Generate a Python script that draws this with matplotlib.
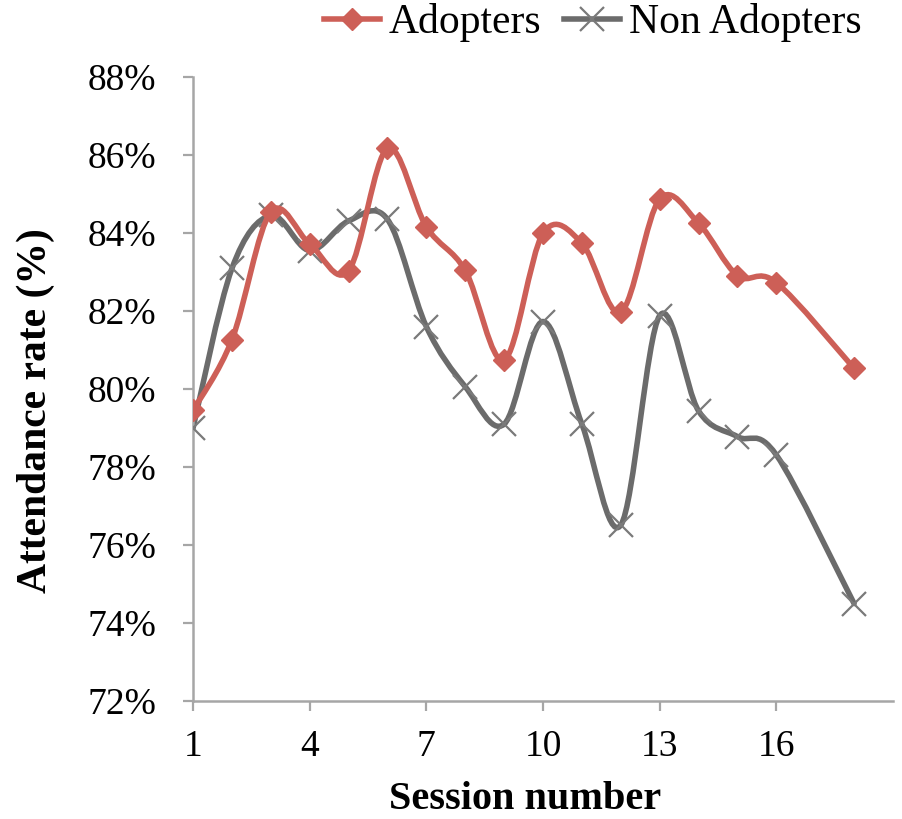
import numpy as np
import matplotlib
matplotlib.use('Agg')
import matplotlib.pyplot as plt
from matplotlib.path import Path
from matplotlib.patches import PathPatch
from matplotlib.lines import Line2D
from matplotlib.ticker import FuncFormatter

plt.rcParams['font.family'] = ['Liberation Serif', 'DejaVu Serif']

sessions = [1, 2, 3, 4, 5, 6, 7, 8, 9, 10, 11, 12, 13, 14, 15, 16, 18]
adopters = [79.45, 81.26, 84.54, 83.72, 83.03, 86.17, 84.16, 83.04, 80.74, 83.99,
            83.74, 81.97, 84.87, 84.25, 82.91, 82.73, 80.53]
non_adopters = [79.0, 83.09, 84.45, 83.55, 84.31, 84.35, 81.6, 80.06, 79.1, 81.73,
                79.1, 76.51, 81.88, 79.44, 78.78, 78.31, 74.5]

red = '#CD5F57'
gray = '#6B6B6B'
axis_gray = '#A6A6A6'


def smooth_path(x, y):
    # excel-like smoothed line: bezier through the points
    pts = np.column_stack([x, y]).astype(float)
    n = len(pts)
    verts = [pts[0]]
    codes = [Path.MOVETO]
    for i in range(n - 1):
        p0 = pts[i - 1] if i > 0 else pts[i]
        p1 = pts[i]
        p2 = pts[i + 1]
        p3 = pts[i + 2] if i + 2 < n else pts[i + 1]
        c1 = p1 + (p2 - p0) / 6.0
        c2 = p2 - (p3 - p1) / 6.0
        verts += [c1, c2, p2]
        codes += [Path.CURVE4] * 3
    return Path(verts, codes)


fig = plt.figure(figsize=(9.02, 8.19), dpi=100)
ax = fig.add_axes([0.214, 0.144, 0.776, 0.762])

ax.add_patch(PathPatch(smooth_path(sessions, non_adopters), fill=False,
                       edgecolor=gray, lw=4, capstyle='round', zorder=2))
ax.plot(sessions, non_adopters, linestyle='none', marker='x', ms=17, mew=1.6,
        color='#7A7A7A', zorder=3)
ax.add_patch(PathPatch(smooth_path(sessions, adopters), fill=False,
                       edgecolor=red, lw=4, capstyle='round', zorder=4))
ax.plot(sessions, adopters, linestyle='none', marker='D', ms=11,
        color=red, mec=red, zorder=5)

ax.set_xlim(1, 19)
ax.set_ylim(72, 88)
ax.set_xticks([1, 4, 7, 10, 13, 16])
ax.set_yticks(np.arange(72, 89, 2))
ax.yaxis.set_major_formatter(FuncFormatter(lambda v, p: '%d%%' % v))

for s in ['top', 'right']:
    ax.spines[s].set_visible(False)
for s in ['left', 'bottom']:
    ax.spines[s].set_color(axis_gray)
    ax.spines[s].set_linewidth(1.8)
ax.tick_params(axis='both', colors=axis_gray, width=1.6, length=7.5,
               labelsize=27, labelcolor='black')
ax.tick_params(axis='x', pad=13)
ax.tick_params(axis='y', pad=19)

ax.set_xlabel('Session number', fontsize=29, fontweight='bold')
ax.xaxis.set_label_coords(0.475, -0.157)
ax.xaxis.label.set_va('center')
ax.set_ylabel('Attendance rate (%)', fontsize=30, fontweight='bold')
ax.yaxis.set_label_coords(-0.225, 0.466)
ax.yaxis.label.set_va('center')

handles = [
    Line2D([], [], color=red, lw=4, marker='D', ms=11),
    Line2D([], [], color=gray, lw=4, marker='x', ms=17, mew=1.6, mec='#7A7A7A'),
]
fig.legend(handles, ['Adopters', 'Non Adopters'], loc='center left',
           bbox_to_anchor=(0.359, 0.972), ncol=2, frameon=False, fontsize=30,
           borderpad=0, borderaxespad=0,
           handlelength=1.35, handletextpad=0.2, columnspacing=0.55)

fig.savefig('out.png', dpi=100)
